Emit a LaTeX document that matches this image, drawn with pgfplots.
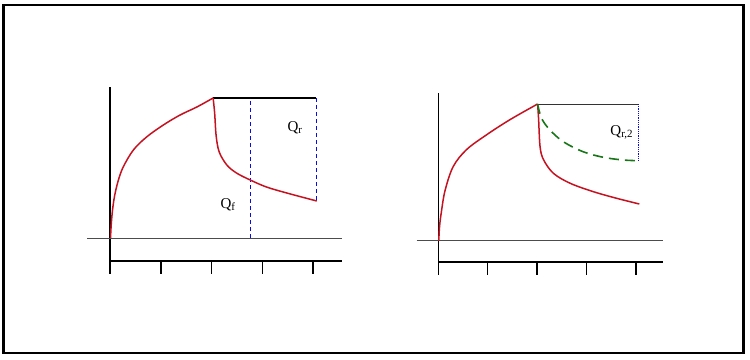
\documentclass[border=0pt]{standalone}
\usepackage{pgfplots}
\pgfplotsset{compat=1.18}
\usepackage{fontspec}
\setmainfont{Liberation Serif}
\definecolor{cred}{RGB}{196,18,32}
\definecolor{cgreen}{RGB}{24,118,24}
\definecolor{cblue}{RGB}{10,10,230}
\newcommand{\lab}[2]{\fontsize{15}{17}\selectfont Q\raisebox{-0.32ex}{\fontsize{11}{12}\selectfont #2}}
\pgfplotsset{
  panel/.style={
    y=1pt,
    axis x line*=bottom, axis y line*=left,
    x axis line style={-, line width=2pt},
    y axis line style={-, line width=1.5pt},
    xtick={0,1,2,3,4}, xticklabels={}, ytick=\empty,
    tick align=outside, major tick length=13pt,
    tick style={black, line width=1.5pt},
    clip=false,
  },
}
\begin{document}
\begin{tikzpicture}
\path[use as bounding box] (0pt,0pt) rectangle (750pt,359pt);
\draw[black, line width=2.5pt] (3.5pt,6pt) rectangle (743.5pt,354pt);
% left panel
\begin{axis}[panel, x=50.8pt, anchor=south west, at={(110pt,98pt)},
  xmin=0, xmax=4.57, ymin=-23, ymax=151]
\addplot[gray!60!black, line width=0.9pt] coordinates {(-0.45,0) (4.57,0)};
\addplot[black, line width=1.5pt] coordinates {(2.03,140) (4.06,140)};
\addplot[cblue, line width=1.1pt, dash pattern=on 4pt off 3pt] coordinates {(2.76,0) (2.76,140)};
\addplot[cblue, line width=1.1pt, dash pattern=on 4pt off 3pt] coordinates {(4.0625,38) (4.0625,140)};
\addplot[cred, line width=1.5pt, smooth, tension=0.55] coordinates {
 (0.01,0) (0.025,14) (0.05,28) (0.09,42) (0.16,57) (0.26,71) (0.46,88) (0.72,101) (1.05,113) (1.38,123) (1.71,131) (2.03,140)};
\addplot[cred, line width=1.5pt, smooth, tension=0.55] coordinates {
 (2.03,140) (2.06,125) (2.09,102) (2.15,86) (2.30,73) (2.49,65) (2.76,58) (3.08,51) (3.48,45) (4.07,37)};
\node at (axis cs:3.64,110) {\lab{}{r}};
\node at (axis cs:2.32,33) {\lab{}{f}};
\end{axis}
% right panel
\begin{axis}[panel, x=49.4pt, anchor=south west, at={(438.3pt,97.3pt)},
  xmin=0, xmax=4.55, ymin=-21, ymax=147.4]
\addplot[gray!60!black, line width=0.9pt] coordinates {(-0.44,0) (4.55,0)};
\addplot[gray!40!black, line width=0.9pt] coordinates {(2.01,136.7) (4.05,136.7)};
\addplot[cblue, line width=0.8pt, densely dotted] coordinates {(4.05,80) (4.05,136.7)};
\addplot[cred, line width=1.5pt, smooth, tension=0.55] coordinates {
 (0.01,0) (0.025,14) (0.06,28) (0.136,50) (0.30,74) (0.57,91) (0.98,106) (1.45,121) (2.01,136.7)};
\addplot[cred, line width=1.5pt, smooth, tension=0.55] coordinates {
 (2.01,136.7) (2.03,122) (2.06,94) (2.13,81) (2.33,67.4) (2.67,57.4) (3.14,49) (3.61,42.4) (4.07,36.7)};
\addplot[cgreen, line width=1.6pt, dash pattern=on 10pt off 6pt, smooth, tension=0.55] coordinates {
 (2.01,136.7) (2.09,122.4) (2.26,110.7) (2.53,99) (2.93,89) (3.34,83.4) (3.74,80.7) (4.05,80)};
\node at (axis cs:3.71,108) {\lab{}{r,2}};
\end{axis}
\end{tikzpicture}
\end{document}
